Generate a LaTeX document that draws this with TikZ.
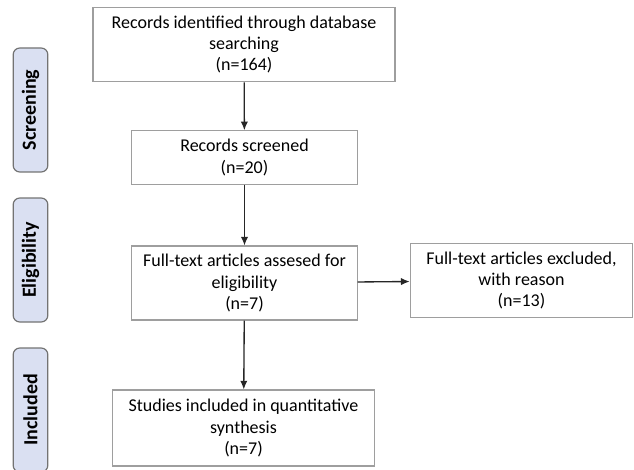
\documentclass[tikz,border=0pt]{standalone}
\usepackage{fontspec}
\setmainfont{Carlito}
\usetikzlibrary{arrows.meta}

\definecolor{phasefill}{RGB}{218,224,242}

\tikzset{
  recbox/.style={draw=black!38, line width=0.8pt, fill=white, align=center, inner sep=2pt, font=\fontsize{13.5}{15.8}\selectfont},
  phasebox/.style={draw=black!55, line width=0.9pt, fill=phasefill, rounded corners=5pt, rotate=90, font=\bfseries\fontsize{15}{17}\selectfont, minimum width=93pt, minimum height=26pt, inner sep=0pt},
  flowarrow/.style={draw=black!85, line width=1pt, -{Latex[length=6.5pt,width=5.5pt]}}
}

\begin{document}
\begin{tikzpicture}[x=0.75pt,y=0.75pt,yscale=-1,xscale=1]
\useasboundingbox (0,0) rectangle (634,470);

%Shape: Rounded Rectangle [id:phase1]
\node (screening) at (30.5,110) [phasebox] {Screening};
%Shape: Rounded Rectangle [id:phase2]
\node (eligibility) at (30.5,260) [phasebox] {Eligibility};
%Shape: Rounded Rectangle [id:phase3]
\node (included) at (30.5,410) [phasebox] {Included};

% Text Node
\node (identified) at (244,44.5) [recbox, minimum width=226.5pt, minimum height=56pt] {Records identified through database\\searching\\(n=164)};
% Text Node
\node (screened) at (244.5,157.5) [recbox, minimum width=169pt, minimum height=40pt] {Records screened\\(n=20)};
% Text Node
\node (assessed) at (244.5,283) [recbox, minimum width=169pt, minimum height=55.5pt] {Full-text articles assesed for\\eligibility\\(n=7)};
% Text Node
\node (excluded) at (521.5,280.5) [recbox, minimum width=167pt, minimum height=56pt] {Full-text articles excluded,\\with reason\\(n=13)};
% Text Node
\node (synthesis) at (243.5,428) [recbox, minimum width=196pt, minimum height=57pt] {Studies included in quantitative\\synthesis\\(n=7)};

%Straight Lines
\draw [flowarrow] (identified) -- (screened);
%Straight Lines
\draw [flowarrow] (screened) -- (assessed);
%Straight Lines
\draw [flowarrow] (assessed) -- (excluded);
%Straight Lines
\draw [flowarrow] (assessed) -- (synthesis);

\end{tikzpicture}
\end{document}
